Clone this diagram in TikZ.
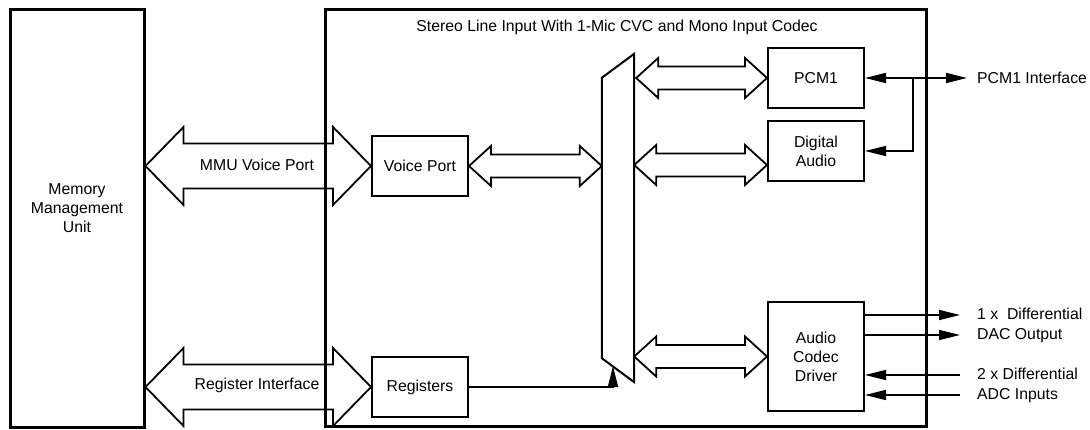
\documentclass[tikz,border=0pt]{standalone}
\usepackage{fontspec}
\setmainfont{Liberation Sans}
\usetikzlibrary{arrows.meta,calc}
\begin{document}
\begin{tikzpicture}[x=1pt,y=-1pt,
  font=\fontsize{15.8}{19}\selectfont,
  outer/.style={draw,line width=3pt,inner sep=0pt},
  blk/.style={draw,line width=2pt,inner sep=0pt,minimum width=96pt,minimum height=60pt,align=center},
  txt/.style={inner sep=0pt,align=center},
  arr/.style={line width=1.6pt,-{Triangle[length=21pt,width=10pt]}},
  dblarr/.style={line width=1.6pt,{Triangle[length=21pt,width=10pt]}-{Triangle[length=21pt,width=10pt]}},
  fat/.style n args={3}{draw,line width=1.8pt,line join=miter,
    to path={let \p1=(\tikztostart), \p2=(\tikztotarget) in
      (\p1) -- (\x1+#1,\y1+#2) -- (\x1+#1,\y1+#3) -- (\x2-#1,\y1+#3) -- (\x2-#1,\y1+#2)
      -- (\x2,\y1) -- (\x2-#1,\y1-#2) -- (\x2-#1,\y1-#3) -- (\x1+#1,\y1-#3) -- (\x1+#1,\y1-#2) -- cycle}},
  bigfat/.style={fat={38pt}{39pt}{22.5pt}},
  smallfat/.style={fat={22pt}{20pt}{11.5pt}}
]
\useasboundingbox (0,0) rectangle (1090,430);

% outer boxes
\node[outer,minimum width=134pt,minimum height=417.5pt] (mmu) at (77,218.25) {};
\node[txt] (mmutxt) at (77,208) {Memory\\Management\\Unit};
\node[outer,minimum width=601pt,minimum height=417pt] (codec) at (625.5,218) {};
\node[txt] (title) at (617,27) {Stereo Line Input With 1-Mic CVC and Mono Input Codec};

% inner blocks
\node[blk] (vp) at (420,166) {Voice Port};
\node[blk] (reg) at (420,387) {Registers};
\node[blk] (pcm) at (816,78) {PCM1};
\node[blk] (da) at (816,151) {Digital\\Audio};
\node[blk,minimum height=109pt] (ac) at (816,356.5) {Audio\\Codec\\Driver};

% multiplexer
\node[inner sep=0pt,minimum width=32pt,minimum height=328pt] (mux) at (618,218) {};
\draw[line width=2pt,line join=miter] ([yshift=-24pt]mux.north west) -- (mux.north east)
  -- (mux.south east) -- ([yshift=24pt]mux.south west) -- cycle;

% fat double arrows
\draw[bigfat] (vp.west -| mmu.east) to (vp.west);
\draw[bigfat] (reg.west -| mmu.east) to (reg.west);
\node[txt] (mmuvp) at (257,165) {MMU Voice Port};
\node[txt] (regif) at (257,385) {Register Interface};
\draw[smallfat] (vp.east) to (vp.east -| mux.west);
\draw[smallfat] ([xshift=2pt]pcm.west -| mux.east) to ([yshift=-1pt]pcm.west);
\draw[smallfat] ([yshift=-14pt]da.west -| mux.east) to ([yshift=-14pt]da.west);
\draw[smallfat] (ac.west -| mux.east) to (ac.west);

% registers to mux select
\coordinate (regin) at (613,366);
\draw[arr] (reg.east) -| (regin);

% PCM1 interface
\node[txt,anchor=west] (pcmif) at (977,78) {PCM1 Interface};
\coordinate (pif) at (967,78);
\coordinate (j) at (913,78);
\draw[dblarr] (pcm.east) -- (pif);
\draw[arr] (j) |- (da.east);

% codec I/O
\node[txt,anchor=west,align=left,font=\fontsize{15.8}{20}\selectfont] (dac) at (977,325) {1 x\ \ Differential\\DAC Output};
\node[txt,anchor=west,align=left,font=\fontsize{15.8}{20}\selectfont] (adc) at (977,385) {2 x Differential\\ADC Inputs};
\coordinate (o1) at (960,315);
\coordinate (o2) at (960,335);
\coordinate (i1) at (960,375);
\coordinate (i2) at (960,395);
\draw[arr] (o1 -| ac.east) -- (o1);
\draw[arr] (o2 -| ac.east) -- (o2);
\draw[arr] (i1) -- (i1 -| ac.east);
\draw[arr] (i2) -- (i2 -| ac.east);
\end{tikzpicture}
\end{document}
